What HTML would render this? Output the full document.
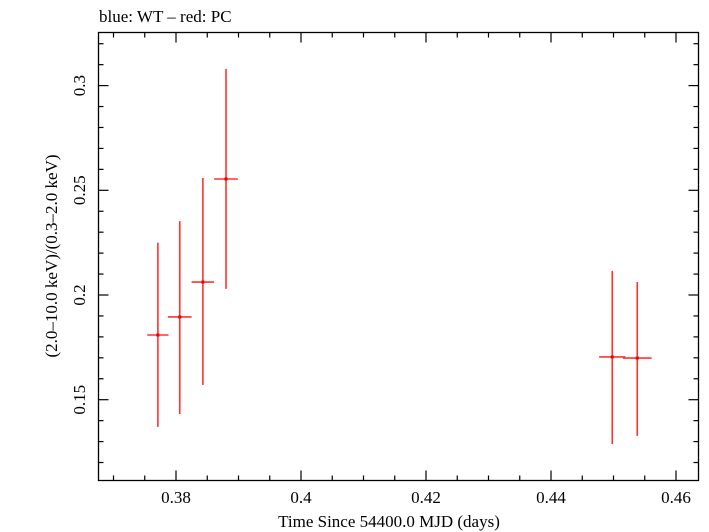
<!DOCTYPE html>
<html><head><meta charset="utf-8"><style>
body{margin:0;background:#fff;}
svg{display:block;font-family:"Liberation Serif",serif;}
</style></head><body>
<svg id="c" width="709" height="532">
<text x="99" y="22" font-size="17">blue: WT – red: PC</text>
<rect x="98.5" y="32.5" width="600" height="448" fill="none" stroke="#000" stroke-width="1.3"/>
<text x="389" y="527" font-size="17" text-anchor="middle">Time Since 54400.0 MJD (days)</text>
<text transform="translate(57,256) rotate(-90)" font-size="17" text-anchor="middle">(2.0–10.0 keV)/(0.3–2.0 keV)</text>
<g id="g"></g>
</svg>
<script>
const xs=[0.3771,0.3806,0.3843,0.3880,0.4498,0.4538];
const xerr=[0.0017,0.0019,0.0018,0.0019,0.0021,0.0023];
const ys=[0.1809,0.1895,0.2062,0.2554,0.1704,0.1699];
const yhi=[0.2250,0.2353,0.2559,0.3080,0.2115,0.2062];
const ylo=[0.1370,0.1432,0.1570,0.2029,0.1288,0.1327];
const xTicks=[0.38,0.4,0.42,0.44,0.46];
const xTickLabels=["0.38","0.4","0.42","0.44","0.46"];
const yTicks=[0.15,0.2,0.25,0.3];
const yTickLabels=["0.15","0.2","0.25","0.3"];
const L=98.5,R=698.5,T=32.5,B=480.5;
const X=v=>176+(v-0.38)*6250;
const Y=v=>295-(v-0.2)*2094;
const g=document.getElementById('g');
const NS="http://www.w3.org/2000/svg";
function mk(t,a,p){const e=document.createElementNS(NS,t);for(const k in a)e.setAttribute(k,a[k]);(p||g).appendChild(e);return e;}
function ln(x1,y1,x2,y2,c,w,n){const e=mk('line',{x1,y1,x2,y2,stroke:c,'stroke-width':w});

return e;}
for(let v=0.37;v<=0.4651;v+=0.005){const x=X(v);if(x<=L+1||x>=R-1)continue;const major=xTicks.some(t=>Math.abs(t-v)<1e-6);const len=major?10:5;
ln(x,B,x,B-len,'#000',1.2,'x-tick');ln(x,T,x,T+len,'#000',1.2,'x-tick');}
xTicks.forEach((v,i)=>{const t=mk('text',{x:X(v),y:503,'font-size':17,'text-anchor':'middle'});t.textContent=xTickLabels[i];

});
for(let v=0.12;v<=0.33;v+=0.01){const y=Y(v);if(y<=T+1||y>=B-1)continue;const major=yTicks.some(t=>Math.abs(t-v)<1e-6);const len=major?10:5;
ln(L,y,L+len,y,'#000',1.2,'y-tick');ln(R,y,R-len,y,'#000',1.2,'y-tick');}
yTicks.forEach((v,i)=>{const t=mk('text',{transform:`translate(85,${Y(v)}) rotate(-90)`,'font-size':17,'text-anchor':'middle'});t.textContent=yTickLabels[i];

});
xs.forEach((v,i)=>{const x=X(v),y=Y(ys[i]);
ln(x,Y(yhi[i]),x,Y(ylo[i]),'#f33',1.6,'y-error-bar');
ln(X(v-xerr[i]),y,X(v+xerr[i]),y,'#f33',1.6,'x-error-bar');
const p=mk('rect',{x:x-1.5,y:y-1.5,width:3,height:3,fill:'#e00'});

});
</script>
</body></html>
